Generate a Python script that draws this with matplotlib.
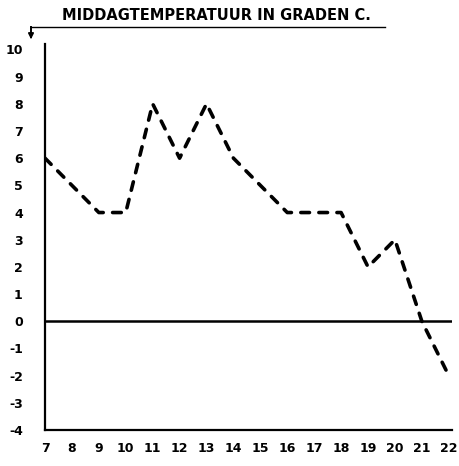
import matplotlib
matplotlib.use('Agg')
import matplotlib.pyplot as plt
from matplotlib.lines import Line2D

# noon temperature per hour
hours = [7, 8, 9, 10, 11, 12, 13, 14, 15, 16, 17, 18, 19, 20, 21, 22]
temps = [6, 5, 4, 4, 8, 6, 8, 6, 5, 4, 4, 4, 2, 3, 0, -2]
x_labels = ['7', '8', '9', '10', '11', '12', '13', '14', '15', '16',
            '17', '18', '19', '20', '21', '22']
y_ticks = [-4, -3, -2, -1, 0, 1, 2, 3, 4, 5, 6, 7, 8, 9, 10]
title = 'MIDDAGTEMPERATUUR IN GRADEN C.'

W, H = 460, 466
fig = plt.figure(figsize=(W / 100, H / 100), dpi=100)
ax = fig.add_axes([45 / W, (H - 430) / H, (452 - 45) / W, (430 - 44) / H])

ax.plot(hours, temps, color='black', linewidth=2.6,
        linestyle=(0, (2.4, 2.6)), dash_capstyle='round')
ax.axhline(0, color='black', linewidth=1.8)

ax.set_xlim(7, 22.12)
ax.set_ylim(-4, 10.2)
ax.set_xticks(hours)
ax.set_xticklabels(x_labels)
ax.set_yticks(y_ticks)
ax.set_yticklabels([str(v) for v in y_ticks])
ax.tick_params(length=0, labelsize=9)
ax.tick_params(axis='x', pad=9)
ax.tick_params(axis='y', pad=16)
for lbl in ax.get_xticklabels() + ax.get_yticklabels():
    lbl.set_fontweight('bold')

for side in ['top', 'right']:
    ax.spines[side].set_visible(False)
for side in ['left', 'bottom']:
    ax.spines[side].set_linewidth(1.6)

# title with underline and arrow pointing down to the axis
fig.text(62 / W, 1 - 16 / H, title, fontsize=10.5, fontweight='bold',
         va='center', ha='left')
fig.add_artist(Line2D([31 / W, 385 / W], [1 - 27 / H, 1 - 27 / H],
                      transform=fig.transFigure, color='black', linewidth=1))
fig.add_artist(Line2D([31 / W, 31 / W], [1 - 27 / H, 1 - 36 / H],
                      transform=fig.transFigure, color='black', linewidth=1.4))
ax.annotate('', xy=(31 / W, 1 - 42 / H), xytext=(31 / W, 1 - 33 / H),
            xycoords='figure fraction',
            arrowprops=dict(arrowstyle='-|>', color='black', lw=1.2,
                            mutation_scale=8))

fig.savefig('out.png', dpi=100)
